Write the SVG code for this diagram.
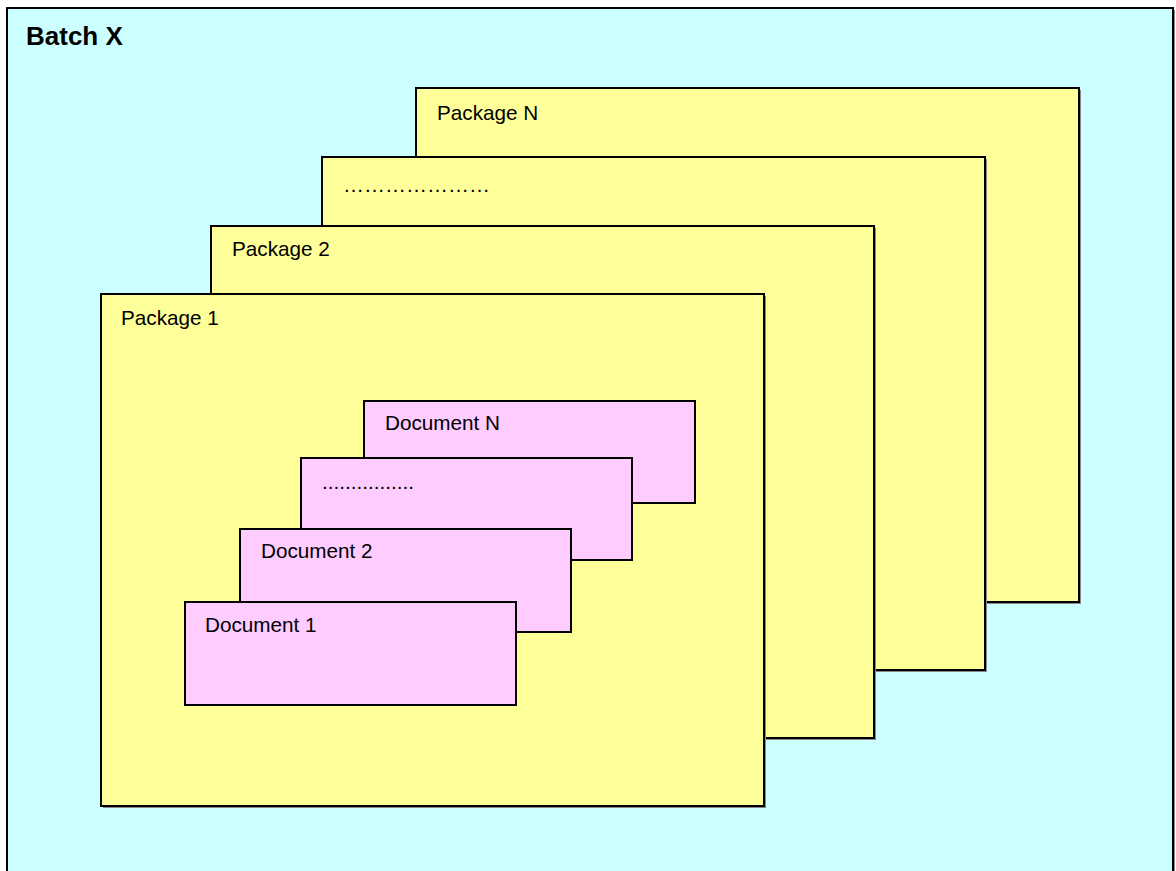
<svg xmlns="http://www.w3.org/2000/svg" width="1176" height="871" viewBox="0 0 1176 871">
<style>
.box{stroke:#000;stroke-width:2}
.batch{fill:#CCFFFF}
.pkg{fill:#FFFF99}
.doc{fill:#FFCCFF}
.shadow{fill:#888}
text{font-family:"Liberation Sans",Arial,sans-serif;fill:#000}
.lbl{font-size:20.7px}
.title{font-size:26px;font-weight:bold}
</style>
<g id="batch">
<rect class="shadow" x="9" y="10" width="1166" height="880"/>
<rect class="box batch" x="7" y="8" width="1166" height="880"/>
<text class="title" x="26" y="45">Batch X</text>
</g>
<g id="package-n">
<rect class="shadow" x="418" y="90" width="663" height="514"/>
<rect class="box pkg" x="416" y="88" width="663" height="514"/>
<text class="lbl" x="437" y="120">Package N</text>
</g>
<g id="package-dots">
<rect class="shadow" x="324" y="159" width="663" height="513"/>
<rect class="box pkg" x="322" y="157" width="663" height="513"/>
<text class="lbl" x="343" y="192" style="font-size:21px">…………………</text>
</g>
<g id="package-2">
<rect class="shadow" x="213" y="228" width="663" height="512"/>
<rect class="box pkg" x="211" y="226" width="663" height="512"/>
<text class="lbl" x="232" y="256">Package 2</text>
</g>
<g id="package-1">
<rect class="shadow" x="103" y="296" width="663" height="512"/>
<rect class="box pkg" x="101" y="294" width="663" height="512"/>
<text class="lbl" x="121" y="325">Package 1</text>
</g>
<g id="document-n">
<rect class="box doc" x="364" y="401" width="331" height="102"/>
<text class="lbl" x="385" y="430">Document N</text>
</g>
<g id="document-dots">
<rect class="box doc" x="301" y="458" width="331" height="102"/>
<text class="lbl" x="322" y="489">................</text>
</g>
<g id="document-2">
<rect class="box doc" x="240" y="529" width="331" height="103"/>
<text class="lbl" x="261" y="558">Document 2</text>
</g>
<g id="document-1">
<rect class="box doc" x="185" y="602" width="331" height="103"/>
<text class="lbl" x="205" y="632">Document 1</text>
</g>
<g id="connectors"></g>
</svg>
